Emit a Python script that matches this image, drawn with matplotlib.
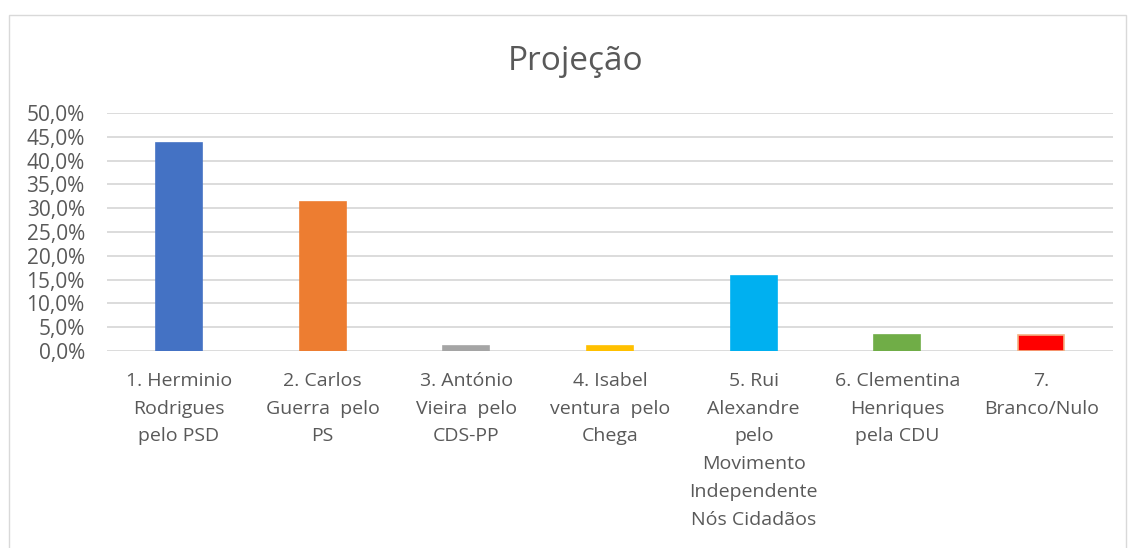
import matplotlib.pyplot as plt
from matplotlib.patches import Rectangle
from matplotlib.ticker import FuncFormatter, MultipleLocator

# data
labels = [
    "1. Herminio\nRodrigues\npelo PSD",
    "2. Carlos\nGuerra  pelo\nPS",
    "3. António\nVieira  pelo\nCDS-PP",
    "4. Isabel\nventura  pelo\nChega",
    "5. Rui\nAlexandre\npelo\nMovimento\nIndependente\nNós Cidadãos",
    "6. Clementina\nHenriques\npela CDU",
    "7.\nBranco/Nulo",
]
values = [43.8, 31.3, 1.0, 1.0, 15.8, 3.3, 3.4]
colors = ["#4472C4", "#ED7D31", "#A5A5A5", "#FFC000", "#00B0F0", "#70AD47", "#FF0000"]
edges = ["#4472C4", "#ED7D31", "#A5A5A5", "#FFC000", "#00B0F0", "#70AD47", "#F4B183"]

plt.rcParams['font.family'] = ['Open Sans', 'DejaVu Sans']

fig = plt.figure(figsize=(11.29, 5.48), dpi=100)
ax = fig.add_axes([107 / 1129, 1 - 351 / 548, (1113 - 107) / 1129, (351 - 113) / 548])

x = range(len(values))
ax.bar(x, values, width=0.32, color=colors, edgecolor=edges, linewidth=1.2, zorder=3)

ax.set_xlim(-0.5, len(values) - 0.5)
ax.set_ylim(0, 50)
ax.yaxis.set_major_locator(MultipleLocator(5))
ax.yaxis.set_major_formatter(FuncFormatter(lambda v, p: f"{v:.1f}%".replace('.', ',')))
ax.grid(axis='y', color='#D9D9D9', linewidth=1.3, zorder=0)
for s in ax.spines.values():
    s.set_visible(False)
ax.tick_params(axis='y', length=0, labelsize=15, labelcolor='#595959', pad=16)
ax.set_xticks(list(x))
ax.set_xticklabels(labels, linespacing=1.7, va='top', ha='center')
ax.tick_params(axis='x', length=0, labelsize=14, labelcolor='#595959', pad=15)

fig.text(576 / 1129, 1 - 61 / 548, "Projeção", ha='center', va='center',
         fontsize=24, color='#595959')

# chart border
fig.patches.append(Rectangle((9 / 1129, -0.01), 1117 / 1129, 1 - 15 / 548 + 0.01,
                             transform=fig.transFigure, fill=False,
                             edgecolor='#D9D9D9', linewidth=1))

fig.savefig("out.png", dpi=100, facecolor='white')
